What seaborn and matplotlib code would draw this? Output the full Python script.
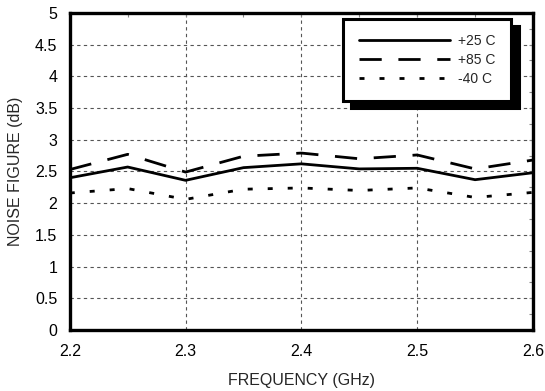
import matplotlib
matplotlib.use("Agg")
import matplotlib.pyplot as plt
from matplotlib.ticker import MultipleLocator
import seaborn as sns
import pandas as pd

# Noise figure vs frequency at three temperatures
freq_ghz = [2.20, 2.25, 2.30, 2.35, 2.40, 2.45, 2.50, 2.55, 2.60]
nf_p25 = [2.40, 2.57, 2.36, 2.56, 2.62, 2.54, 2.55, 2.37, 2.48]
nf_p85 = [2.53, 2.77, 2.49, 2.74, 2.79, 2.70, 2.76, 2.54, 2.68]
nf_m40 = [2.16, 2.23, 2.06, 2.22, 2.24, 2.20, 2.24, 2.09, 2.17]
temps = ["+25 C", "+85 C", "-40 C"]

df = pd.concat([
    pd.DataFrame({"freq": freq_ghz, "nf": vals, "temp": t})
    for t, vals in zip(temps, [nf_p25, nf_p85, nf_m40])
], ignore_index=True)

sns.set_style("white")
plt.rcParams["font.family"] = ["Liberation Sans", "DejaVu Sans"]

fig = plt.figure(figsize=(5.45, 3.91), dpi=100)
ax = fig.add_axes([0.128, 0.156, 0.850, 0.811])

dash_map = {"+25 C": "", "+85 C": (8, 6), "-40 C": (1.8, 5.4)}
sns.lineplot(data=df, x="freq", y="nf", style="temp", style_order=temps,
             dashes=dash_map, color="black", linewidth=2.0, ax=ax,
             legend=True)

ax.set_xlim(2.2, 2.6)
ax.set_ylim(0, 5)
ax.xaxis.set_major_locator(MultipleLocator(0.1))
ax.xaxis.set_minor_locator(MultipleLocator(0.05))
ax.yaxis.set_major_locator(MultipleLocator(0.5))
ax.yaxis.set_minor_locator(MultipleLocator(0.25))
ax.set_xticklabels([f"{v:.1f}" for v in ax.get_xticks()])
ax.set_yticklabels([f"{v:g}" for v in ax.get_yticks()])

ax.grid(True, which="major", color="#555555", linestyle=(0, (3, 3)),
        linewidth=0.8)
for s in ax.spines.values():
    s.set_linewidth(2.4)
    s.set_color("black")
    s.set_zorder(5)

ax.tick_params(which="both", direction="in", top=True, right=True,
               color="#888888", length=3, width=0.8, labelsize=11.5,
               labelcolor="black")
ax.tick_params(axis="x", which="major", pad=10)
ax.tick_params(axis="y", which="major", pad=9)

ax.set_xlabel("FREQUENCY (GHz)", fontsize=11.5)
ax.set_ylabel("NOISE FIGURE (dB)", fontsize=11.5)
ax.xaxis.set_label_coords(0.5, -0.135)
ax.yaxis.set_label_coords(-0.10, 0.5)

handles, labels = ax.get_legend_handles_labels()
leg = ax.legend(handles, labels, loc="upper right",
                bbox_to_anchor=(0.9525, 0.981), borderaxespad=0,
                fontsize=10, handlelength=6.6, handletextpad=0.58,
                frameon=True, fancybox=False, framealpha=1,
                edgecolor="black", labelspacing=0.36,
                borderpad=1.1,
                shadow={"ox": 5.5, "oy": -5, "color": "black", "alpha": 1})
leg.get_frame().set_linewidth(2.2)
leg.set_zorder(10)

fig.savefig("out.png", dpi=100)
